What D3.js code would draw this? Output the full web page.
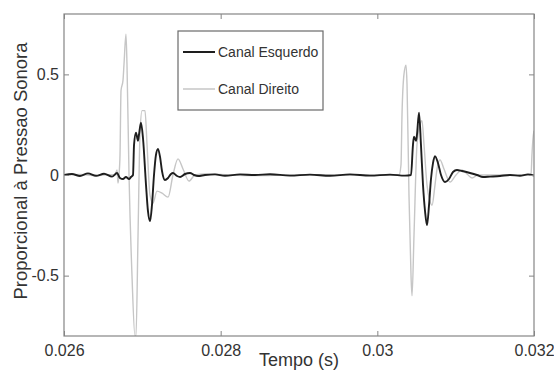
<!DOCTYPE html>
<html>
<head>
<meta charset="utf-8">
<script src="https://cdn.jsdelivr.net/npm/d3@7"></script>
<style>
  body { margin: 0; background: #fff; }
  text { font-family: Arial, "Liberation Sans", sans-serif; fill: #333; }
</style>
</head>
<body>
<svg id="chart" width="554" height="372"></svg>
<script>
// time in ms, amplitude
const leftTimeMs = [26.000, 26.102, 26.204, 26.306, 26.409, 26.511, 26.613, 26.677, 26.715, 26.753,
  26.791, 26.830, 26.855, 26.881, 26.894, 26.919, 26.945, 26.957, 26.983, 27.009,
  27.047, 27.072, 27.098, 27.123, 27.149, 27.174, 27.200, 27.226, 27.251, 27.289,
  27.328, 27.366, 27.391, 27.443, 27.481, 27.545, 27.609, 27.660, 27.711, 27.800,
  27.928, 28.055, 28.247, 28.438, 28.630, 28.885, 29.140, 29.396, 29.651, 29.906,
  30.162, 30.353, 30.430, 30.455, 30.468, 30.494, 30.506, 30.532, 30.557, 30.583,
  30.609, 30.634, 30.660, 30.685, 30.711, 30.736, 30.774, 30.813, 30.864, 30.915,
  30.966, 31.017, 31.081, 31.183, 31.272, 31.349, 31.438, 31.566, 31.694, 31.821,
  31.923, 32.000];
const leftValues = [0, 0.005, -0.005, 0.008, -0.004, 0.006, -0.008, 0.01, -0.015, -0.02,
  -0.01, -0.02, -0.01, 0.0, 0.15, 0.21, 0.17, 0.2, 0.26, 0.18,
  -0.05, -0.18, -0.23, -0.15, 0.0, 0.1, 0.13, 0.09, 0.02, -0.025,
  -0.015, 0.005, 0.01, -0.005, -0.01, 0.005, 0.01, 0.0, -0.005, 0.0,
  0.003, -0.004, 0.003, 0, 0.004, -0.003, 0.002, -0.004, 0.003, -0.003,
  0.002, -0.003, 0.0, 0.15, 0.19, 0.17, 0.2, 0.31, 0.15, -0.05,
  -0.18, -0.25, -0.15, -0.02, 0.06, 0.094, 0.06, 0.0, -0.035, -0.02,
  0.015, 0.025, 0.02, 0.01, 0.0, -0.01, -0.008, -0.005, 0.0, -0.004,
  0.003, -0.003];

const rightTimeMs = [26.000, 26.204, 26.409, 26.587, 26.651, 26.677, 26.689, 26.702, 26.715, 26.728,
  26.753, 26.766, 26.791, 26.804, 26.830, 26.868, 26.906, 26.919, 26.945, 26.970,
  26.996, 27.034, 27.060, 27.098, 27.136, 27.187, 27.251, 27.328, 27.391, 27.455,
  27.519, 27.596, 27.672, 27.800, 28.119, 28.502, 29.013, 29.523, 30.034, 30.277,
  30.302, 30.315, 30.340, 30.366, 30.379, 30.404, 30.430, 30.443, 30.468, 30.506,
  30.545, 30.570, 30.596, 30.634, 30.672, 30.698, 30.736, 30.762, 30.800, 30.851,
  30.928, 31.004, 31.081, 31.145, 31.209, 31.285, 31.438, 31.694, 31.962, 31.974,
  31.987, 32.000];
const rightValues = [0, 0.003, -0.003, 0.002, 0, 0.025, -0.04, 0, 0.1, 0.42,
  0.47, 0.55, 0.70, 0.55, 0.0, -0.5, -0.8, -0.8, -0.3, 0.2,
  0.32, 0.32, 0.15, -0.1, -0.14, -0.08, -0.09, -0.11, 0.0, 0.08,
  0.03, -0.03, 0.0, 0.005, 0, -0.003, 0.002, 0, 0, 0,
  0.05, 0.3, 0.5, 0.545, 0.45, -0.1, -0.5, -0.6, -0.3, 0.15,
  0.25, 0.27, 0.15, -0.05, -0.13, -0.15, -0.05, 0.03, 0.075, 0.03,
  -0.035, 0.0, 0.025, 0.005, -0.015, 0.0, 0.0, 0.0, 0.0, 0.1,
  0.18, 0.22];

const seriesNames = ['Canal Esquerdo', 'Canal Direito'];
const xTicks = [0.026, 0.028, 0.030, 0.032];
const xTickLabels = ['0.026', '0.028', '0.03', '0.032'];
const yTicks = [-0.5, 0, 0.5];
const yTickLabels = ['-0.5', '0', '0.5'];

const svg = d3.select('#chart');
const margin = {left: 64, top: 14, right: 20, bottom: 36};
const width = 554 - margin.left - margin.right;
const height = 372 - margin.top - margin.bottom;

const x = d3.scaleLinear().domain([0.026, 0.032]).range([0, width]);
const y = d3.scaleLinear().domain([-0.8, 0.8]).range([height, 0]);

const g = svg.append('g').attr('transform', `translate(${margin.left},${margin.top})`);

svg.append('defs').append('clipPath').attr('id', 'clip')
  .append('rect').attr('width', width).attr('height', height);

const left = leftTimeMs.map((t, i) => ({t: t / 1000, v: leftValues[i]}));
const right = rightTimeMs.map((t, i) => ({t: t / 1000, v: rightValues[i]}));

const line = d3.line()
  .x(d => x(d.t))
  .y(d => y(d.v))
  .curve(d3.curveMonotoneX);

const plot = g.append('g').attr('clip-path', 'url(#clip)');
plot.append('path').datum(right)
  .attr('fill', 'none').attr('stroke', '#c6c6c6').attr('stroke-width', 1.4)
  .attr('d', line);
plot.append('path').datum(left)
  .attr('fill', 'none').attr('stroke', '#1e1e1e').attr('stroke-width', 1.9)
  .attr('d', line);

// frame with inward ticks on every side
const frame = '#858585';
const styleAxis = sel => {
  sel.select('.domain').remove();
  sel.selectAll('.tick line').attr('stroke', frame);
  sel.selectAll('.tick text').style('font-size', '16px').attr('fill', '#333');
};

g.append('g').attr('transform', `translate(0,${height})`)
  .call(d3.axisBottom(x).tickValues(xTicks).tickSize(-5).tickPadding(9)
    .tickFormat((d, i) => xTickLabels[i]))
  .call(styleAxis);
g.append('g')
  .call(d3.axisTop(x).tickValues(xTicks).tickSize(-5).tickFormat(''))
  .call(styleAxis);
g.append('g')
  .call(d3.axisLeft(y).tickValues(yTicks).tickSize(-5).tickPadding(5)
    .tickFormat((d, i) => yTickLabels[i]))
  .call(styleAxis);
g.append('g').attr('transform', `translate(${width},0)`)
  .call(d3.axisRight(y).tickValues(yTicks).tickSize(-5).tickFormat(''))
  .call(styleAxis);

g.append('rect')
  .attr('width', width).attr('height', height)
  .attr('fill', 'none').attr('stroke', frame).attr('stroke-width', 1.2);

// axis titles
svg.append('text')
  .attr('x', margin.left + width / 2).attr('y', 366)
  .attr('text-anchor', 'middle').style('font-size', '18px').attr('fill', '#222')
  .text('Tempo (s)');
svg.append('text')
  .attr('transform', 'translate(27,171) rotate(-90)')
  .attr('text-anchor', 'middle').style('font-size', '18.5px').attr('fill', '#222')
  .text('Proporcional à Pressao Sonora');

// legend
const legend = svg.append('g').attr('transform', 'translate(178,31)');
legend.append('rect')
  .attr('width', 145).attr('height', 79)
  .attr('fill', '#fff').attr('stroke', '#6a6a6a').attr('stroke-width', 1.2);
const legendColors = ['#1e1e1e', '#c6c6c6'];
const legendWidths = [2, 1.5];
seriesNames.forEach((name, i) => {
  const ly = 21 + i * 37;
  legend.append('line')
    .attr('x1', 5).attr('x2', 37).attr('y1', ly).attr('y2', ly)
    .attr('stroke', legendColors[i]).attr('stroke-width', legendWidths[i]);
  legend.append('text')
    .attr('x', 40).attr('y', ly + 5)
    .style('font-size', '14px').attr('fill', '#222')
    .text(name);
});
</script>
</body>
</html>
